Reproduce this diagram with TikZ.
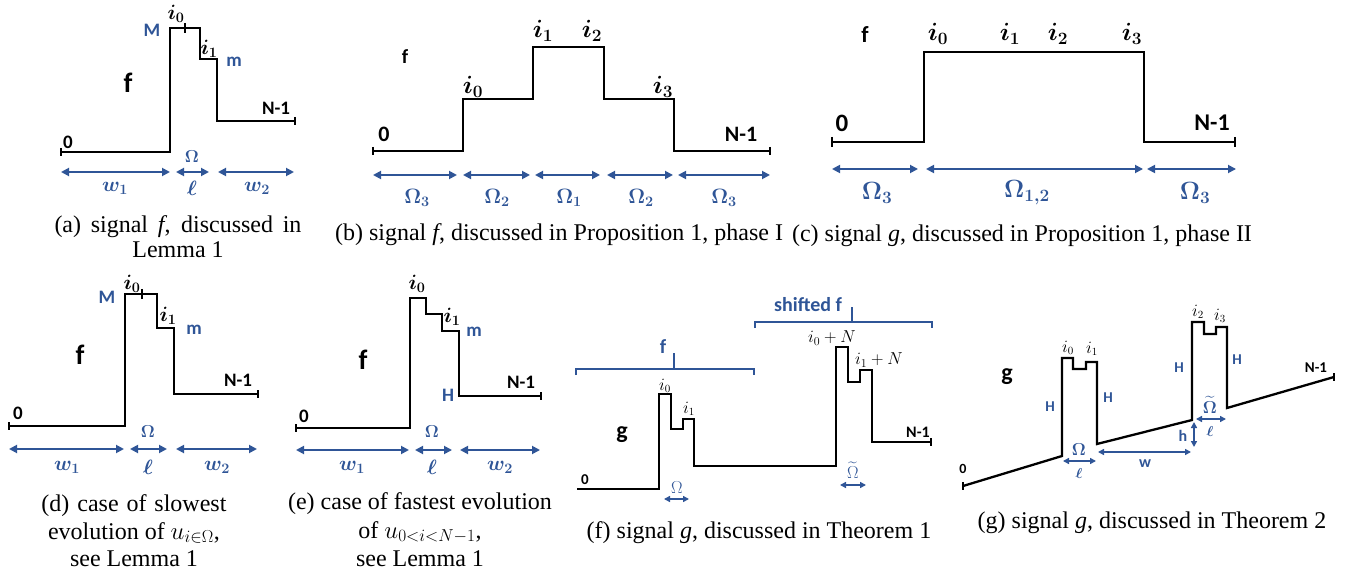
\documentclass[tikz,border=0pt]{standalone}
\usepackage{amsmath,amssymb,bm}
\usepackage[no-math]{fontspec}
\setmainfont{Liberation Serif}
\newfontfamily\labfont{Carlito}
\usetikzlibrary{arrows.meta}
\definecolor{blu}{HTML}{2F5597}
\tikzset{
 sig/.style={line width=2.8pt, line join=miter},
 sigs/.style={line width=2.3pt, line join=miter},
 tk/.style={line width=2.2pt},
 dimA/.style={draw=blu, line width=1.8pt, {Triangle[length=8pt,width=8pt]}-{Triangle[length=8pt,width=8pt]}},
 dimB/.style={draw=blu, line width=1.5pt, {Triangle[length=6pt,width=6pt]}-{Triangle[length=6pt,width=6pt]}},
 brk/.style={draw=blu, line width=1.5pt},
 lb/.style={font=\labfont\bfseries\fontsize{#1}{#1}\selectfont, inner sep=0pt},
 bl/.style={lb=#1, text=blu},
 mt/.style={font=\fontsize{#1}{#1}\selectfont, inner sep=0pt},
 bm/.style={mt=#1, text=blu},
 captxt/.style={font=\fontsize{24}{28}\selectfont, inner sep=0pt, anchor=base},
}
\begin{document}
\begin{tikzpicture}[x=1pt,y=-1pt]
\fill[white] (0,0) rectangle (1358,572);
\useasboundingbox (0,0) rectangle (1358,572);

% ---------------- (a) ----------------
\draw[sig] (61,152) -| (170,28) -| (200,59) -| (217,121) -- (295,121);
\draw[tk] (61,148) -- (61,156);
\draw[tk] (295,117) -- (295,125);
\draw[tk] (185,23) -- (185,33);
\node[lb=19] (a0) at (68,142) {0};
\node[lb=28] (af) at (128,83) {f};
\node[bl=19] (aM) at (152,30) {M};
\node[mt=22] (ai0) at (176,14) {$\bm{i_0}$};
\node[mt=22] (ai1) at (209,49) {$\bm{i_1}$};
\node[bl=19] (am) at (234,62) {m};
\node[lb=19] (aN) at (276,108) {N-1};
\draw[dimA] (61,172) -- (170,172);
\draw[dimA] (176,172) -- (209,172);
\draw[dimA] (218,172) -- (294,172);
\node[bm=19] (aO) at (192,157) {$\bm{\Omega}$};
\node[bm=22] (aw1) at (115,188) {$\bm{w_1}$};
\node[bm=22] (al) at (192,188) {$\bm{\ell}$};
\node[bm=22] (aw2) at (257,188) {$\bm{w_2}$};
\node[captxt] (acap1) at (178,233) {\makebox[247pt][s]{(a) signal \textit{f}, discussed in}};
\node[captxt] (acap2) at (178,258) {Lemma 1};

% ---------------- (b) ----------------
\draw[sig] (373,151) -| (463,99) -| (533,47) -| (604,99) -| (674,151) -- (770,151);
\draw[tk] (373,147) -- (373,155);
\draw[tk] (770,147) -- (770,155);
\node[lb=20] (bf) at (405,57) {f};
\node[lb=22] (b0) at (384,134) {0};
\node[mt=24] (bi0) at (473,87) {$\bm{i_0}$};
\node[mt=24] (bi1) at (543,31) {$\bm{i_1}$};
\node[mt=24] (bi2) at (592,31) {$\bm{i_2}$};
\node[mt=24] (bi3) at (663,87) {$\bm{i_3}$};
\node[lb=22] (bN) at (741,134) {N-1};
\draw[dimA] (373,175) -- (457,175);
\draw[dimA] (463,175) -- (530,175);
\draw[dimA] (535,175) -- (600,175);
\draw[dimA] (607,175) -- (673,175);
\draw[dimA] (678,175) -- (770,175);
\node[bm=22] (bO3a) at (417,198) {$\bm{\Omega_3}$};
\node[bm=22] (bO2a) at (497,198) {$\bm{\Omega_2}$};
\node[bm=22] (bO1) at (569,198) {$\bm{\Omega_1}$};
\node[bm=22] (bO2b) at (641,198) {$\bm{\Omega_2}$};
\node[bm=22] (bO3b) at (724,198) {$\bm{\Omega_3}$};
\node[captxt] (bcap) at (559,241) {(b) signal \textit{f}, discussed in Proposition 1, phase I};

% ---------------- (c) ----------------
\draw[sig] (832,142) -| (924,52) -| (1144,142) -- (1235,142);
\draw[tk] (832,137) -- (832,147);
\draw[tk] (1235,137) -- (1235,147);
\node[lb=23] (cf) at (865,35) {f};
\node[lb=25] (c0) at (842,123) {0};
\node[mt=25] (ci0) at (938,34) {$\bm{i_0}$};
\node[mt=25] (ci1) at (1010,34) {$\bm{i_1}$};
\node[mt=25] (ci2) at (1058,34) {$\bm{i_2}$};
\node[mt=25] (ci3) at (1132,34) {$\bm{i_3}$};
\node[lb=24] (cN) at (1212,123) {N-1};
\draw[dimA] (832,169) -- (918,169);
\draw[dimA] (926,169) -- (1143,169);
\draw[dimA] (1147,169) -- (1236,169);
\node[bm=24] (cO3a) at (877,193) {$\bm{\Omega_3}$};
\node[bm=24] (cO12) at (1027,193) {$\bm{\Omega_{1,2}}$};
\node[bm=24] (cO3b) at (1195,193) {$\bm{\Omega_3}$};
\node[captxt] (ccap) at (1022,242) {(c) signal \textit{g}, discussed in Proposition 1, phase II};

% ---------------- (d) ----------------
\draw[sig] (9,426) -| (125,294) -| (157,328) -| (174,394) -- (258,394);
\draw[tk] (9,422) -- (9,430);
\draw[tk] (258,390) -- (258,398);
\draw[tk] (142,289) -- (142,299);
\node[lb=19] (d0) at (18,413) {0};
\node[bl=19] (dM) at (107,297) {M};
\node[mt=22] (di0) at (132,284) {$\bm{i_0}$};
\node[mt=22] (di1) at (168,316) {$\bm{i_1}$};
\node[bl=19] (dm) at (194,330) {m};
\node[lb=28] (df) at (80,355) {f};
\node[lb=19] (dN) at (238,380) {N-1};
\draw[dimA] (9,449) -- (124,449);
\draw[dimA] (130,449) -- (167,449);
\draw[dimA] (176,449) -- (257,449);
\node[bm=19] (dO) at (148,432) {$\bm{\Omega}$};
\node[bm=22] (dw1) at (67,467) {$\bm{w_1}$};
\node[bm=22] (dl) at (148,467) {$\bm{\ell}$};
\node[bm=22] (dw2) at (217,467) {$\bm{w_2}$};
\node[captxt] (dcap1) at (134,511) {\makebox[185pt][s]{(d) case of slowest}};
\node[captxt] (dcap2) at (134,539) {evolution of $u_{i\in\Omega}$,};
\node[captxt] (dcap3) at (134,566) {see Lemma 1};

% ---------------- (e) ----------------
\draw[sig] (296,428) -| (410,298) -| (426,314) -| (442,331) -| (459,396) -- (541,396);
\draw[tk] (296,424) -- (296,432);
\draw[tk] (541,392) -- (541,400);
\node[lb=19] (e0) at (304,416) {0};
\node[mt=22] (ei0) at (417,284) {$\bm{i_0}$};
\node[mt=22] (ei1) at (452,317) {$\bm{i_1}$};
\node[bl=19] (em) at (474,332) {m};
\node[lb=28] (ef) at (363,360) {f};
\node[bl=19] (eH) at (448,395) {H};
\node[lb=19] (eN) at (521,382) {N-1};
\draw[dimA] (296,450) -- (409,450);
\draw[dimA] (415,450) -- (452,450);
\draw[dimA] (460,450) -- (540,450);
\node[bm=19] (eO) at (432,432) {$\bm{\Omega}$};
\node[bm=22] (ew1) at (352,467) {$\bm{w_1}$};
\node[bm=22] (el) at (432,467) {$\bm{\ell}$};
\node[bm=22] (ew2) at (500,467) {$\bm{w_2}$};
\node[captxt] (ecap1) at (420,509) {(e) case of fastest evolution};
\node[captxt] (ecap2) at (420,538) {of $u_{0<i<N-1}$,};
\node[captxt] (ecap3) at (420,566) {see Lemma 1};

% ---------------- (f) ----------------
\draw[sigs] (577,489) -| (659,394) -| (671,429) -| (683,419) -| (694,466) -| (836,347) -| (848,382) -| (860,370) -| (872,442) -- (931,442);
\draw[tk] (931,438) -- (931,446);
\draw[brk] (576,375) -- (576,369) -- (754,369) -- (754,375);
\draw[brk] (674,369) -- (674,353);
\draw[brk] (755,328) -- (755,322) -- (932,322) -- (932,328);
\draw[brk] (852,322) -- (852,307);
\node[bl=20] (ff) at (663,347) {f};
\node[bl=20] (fsf) at (808,305) {shifted f};
\node[lb=15] (f0) at (585,480) {0};
\node[lb=24] (fg) at (622,435) {g};
\node[mt=16] (fi0) at (665,386) {$i_0$};
\node[mt=16] (fi1) at (689,409) {$i_1$};
\node[mt=17] (fi0N) at (832,338) {$i_0+N$};
\node[mt=17] (fi1N) at (879,360) {$i_1+N$};
\node[lb=16] (fN) at (918,432) {N-1};
\draw[dimB] (664,499) -- (689,499);
\node[bm=16] (fO) at (677,488) {$\Omega$};
\draw[dimB] (840,485) -- (866,485);
\node[bm=16, anchor=base] (fOt) at (853,478) {$\widetilde{\Omega}$};
\node[captxt] (fcap) at (759,538) {(f) signal \textit{g}, discussed in Theorem 1};

% ---------------- (g) ----------------
\draw[sigs] (963,486) -- (1062,456) |- (1073,358) |- (1086,369) |- (1097,362) -- (1097,444) -- (1192,420) |- (1204,322) |- (1216,334) |- (1227,327) -- (1227,408) -- (1334,377);
\draw[tk] (963,482) -- (963,490);
\draw[tk] (1334,373) -- (1334,381);
\node[lb=14] (g0) at (963,469) {0};
\node[lb=24] (gg) at (1007,377) {g};
\node[bl=15] (gH1) at (1050,407) {H};
\node[bl=15] (gH2) at (1108,398) {H};
\node[bl=15] (gH3) at (1179,368) {H};
\node[bl=15] (gH4) at (1237,360) {H};
\node[mt=16] (gi0) at (1068,348) {$i_0$};
\node[mt=16] (gi1) at (1092,349) {$i_1$};
\node[mt=16] (gi2) at (1198,312) {$i_2$};
\node[mt=16] (gi3) at (1220,316) {$i_3$};
\node[lb=15] (gN) at (1316,368) {N-1};
\draw[dimB] (1063,461) -- (1096,461);
\node[bm=17] (gO) at (1079,450) {$\bm{\Omega}$};
\node[bm=15] (gl1) at (1079,473) {$\bm{\ell}$};
\draw[dimB] (1098,452) -- (1191,452);
\node[bl=16] (gw) at (1145,464) {w};
\draw[dimB] (1194,422) -- (1194,447);
\node[bl=16] (gh) at (1183,436) {h};
\draw[dimB] (1196,419) -- (1226,419);
\node[bm=17, anchor=base] (gOt) at (1210,413) {$\widetilde{\bm{\Omega}}$};
\node[bm=15] (gl2) at (1210,431) {$\bm{\ell}$};
\node[captxt] (gcap) at (1152,528) {(g) signal \textit{g}, discussed in Theorem 2};
\end{tikzpicture}
\end{document}
